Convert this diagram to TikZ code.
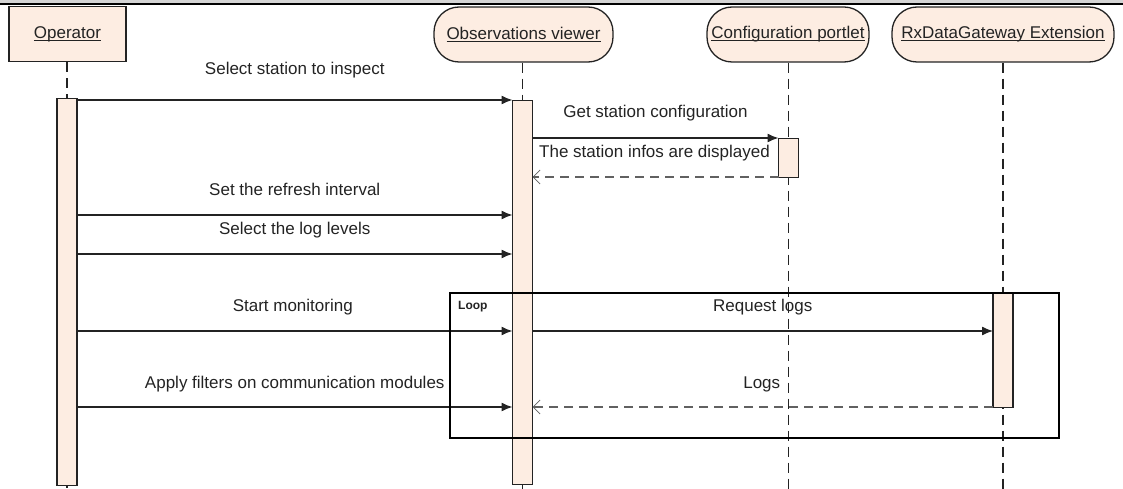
\documentclass[tikz,border=0pt]{standalone}
\usepackage{fontspec}
\setmainfont{Liberation Sans}
\usetikzlibrary{arrows.meta}
\definecolor{peach}{RGB}{253,237,226}
\definecolor{ln}{RGB}{35,35,35}
\definecolor{txt}{RGB}{35,35,35}
\newcommand\uhead[1]{\setbox0\hbox{#1}\rlap{\rule[-2.4pt]{\wd0}{0.8pt}}\box0}
\begin{document}
\begin{tikzpicture}[x=1pt,y=-1pt,
  every node/.style={font=\fontsize{17}{20}\selectfont, text=txt},
  headbox/.style={draw=ln, line width=1.3pt, fill=peach, minimum height=55pt, inner sep=0pt},
  rhead/.style={headbox, rounded corners=25pt},
  actbox/.style={draw=ln, line width=1.3pt, fill=peach, minimum width=20pt, inner sep=0pt, anchor=north},
  lifeline/.style={draw=ln, line width=1.2pt, dash pattern=on 10pt off 6pt},
  msg/.style={draw=ln, line width=1.3pt, -{Latex[length=11pt,width=9pt]}},
  ret/.style={draw=black!62, line width=1.4pt, dash pattern=on 9pt off 6pt, -{Straight Barb[length=7pt,width=14pt,line width=0.8pt]}},
  lbl/.style={pos=0.5, inner sep=0pt, text height=12.5pt, text depth=3.5pt}
]
\useasboundingbox (0,0) rectangle (1123,489);
% top band
\fill[black!17] (0,0) rectangle (1123,3);
\fill[black] (0,3) rectangle (1123,5.5);

% headers
\node[headbox, minimum width=117pt] (op) at (67.5,34) {\uhead{Operator}};
\node[rhead, minimum width=179pt] (obs) at (523.5,34.5) {\uhead{Observations viewer}};
\node[rhead, minimum width=162pt] (cfg) at (788,34.5) {\uhead{Configuration portlet}};
\node[rhead, minimum width=222pt] (rx) at (1003,34.5) {\uhead{RxDataGateway Extension}};

% lifeline ends
\coordinate (opEnd) at (67,489);
\coordinate (obsEnd) at (522.5,489);
\coordinate (cfgEnd) at (788.5,489);
\coordinate (rxEnd) at (1003,489);
\draw[lifeline] (op.south -| opEnd) -- (opEnd);
\draw[lifeline] (obs.south -| obsEnd) -- (obsEnd);
\draw[lifeline] (cfg.south -| cfgEnd) -- (cfgEnd);
\draw[lifeline] (rx.south -| rxEnd) -- (rxEnd);

% activations
\node[actbox, minimum height=387pt] (aop) at (67,98) {};
\node[actbox, minimum height=384pt] (aobs) at (522.5,100) {};
\node[actbox, minimum height=39pt] (acfg) at (788.5,138) {};
\node[actbox, minimum height=115pt] (arx) at (1003,292) {};

% message end points
\coordinate (m1s) at (77,100);   \coordinate (m1e) at (512.5,100);
\coordinate (m2s) at (532.5,138); \coordinate (m2e) at (778.5,138);
\coordinate (m3s) at (778.5,177); \coordinate (m3e) at (532.5,177);
\coordinate (m4s) at (77,215);   \coordinate (m4e) at (512.5,215);
\coordinate (m5s) at (77,254);   \coordinate (m5e) at (512.5,254);
\coordinate (m6s) at (77,331);   \coordinate (m6e) at (512.5,331);
\coordinate (m7s) at (532.5,331); \coordinate (m7e) at (993,331);
\coordinate (m8s) at (77,407);   \coordinate (m8e) at (512.5,407);
\coordinate (m9s) at (993,407);  \coordinate (m9e) at (532.5,407);

\draw[msg] (m1s) -- node[lbl, yshift=30pt] {Select station to inspect} (m1e);
\draw[msg] (m2s) -- node[lbl, yshift=25pt] {Get station configuration} (m2e);
\draw[ret] (m3s) -- node[lbl, yshift=24pt, xshift=-1pt] {The station infos are displayed} (m3e);
\draw[msg] (m4s) -- node[lbl, yshift=24pt] {Set the refresh interval} (m4e);
\draw[msg] (m5s) -- node[lbl, yshift=24pt] {Select the log levels} (m5e);
\draw[msg] (m6s) -- node[lbl, yshift=24pt, xshift=-2pt] {Start monitoring} (m6e);
\draw[msg] (m7s) -- node[lbl, yshift=24pt] {Request logs} (m7e);
\draw[msg] (m8s) -- node[lbl, yshift=23pt] {Apply filters on communication modules} (m8e);
\draw[ret] (m9s) -- node[lbl, yshift=23pt, xshift=-1pt] {Logs} (m9e);

% loop frame
\node[draw=black, line width=2pt, minimum width=609pt, minimum height=145pt, inner sep=0pt, anchor=north west] (loop) at (449,292) {};
\node[anchor=west, inner sep=0pt, font=\fontsize{12}{14}\selectfont\bfseries] (looplbl) at (458,307) {Loop};
\end{tikzpicture}
\end{document}
